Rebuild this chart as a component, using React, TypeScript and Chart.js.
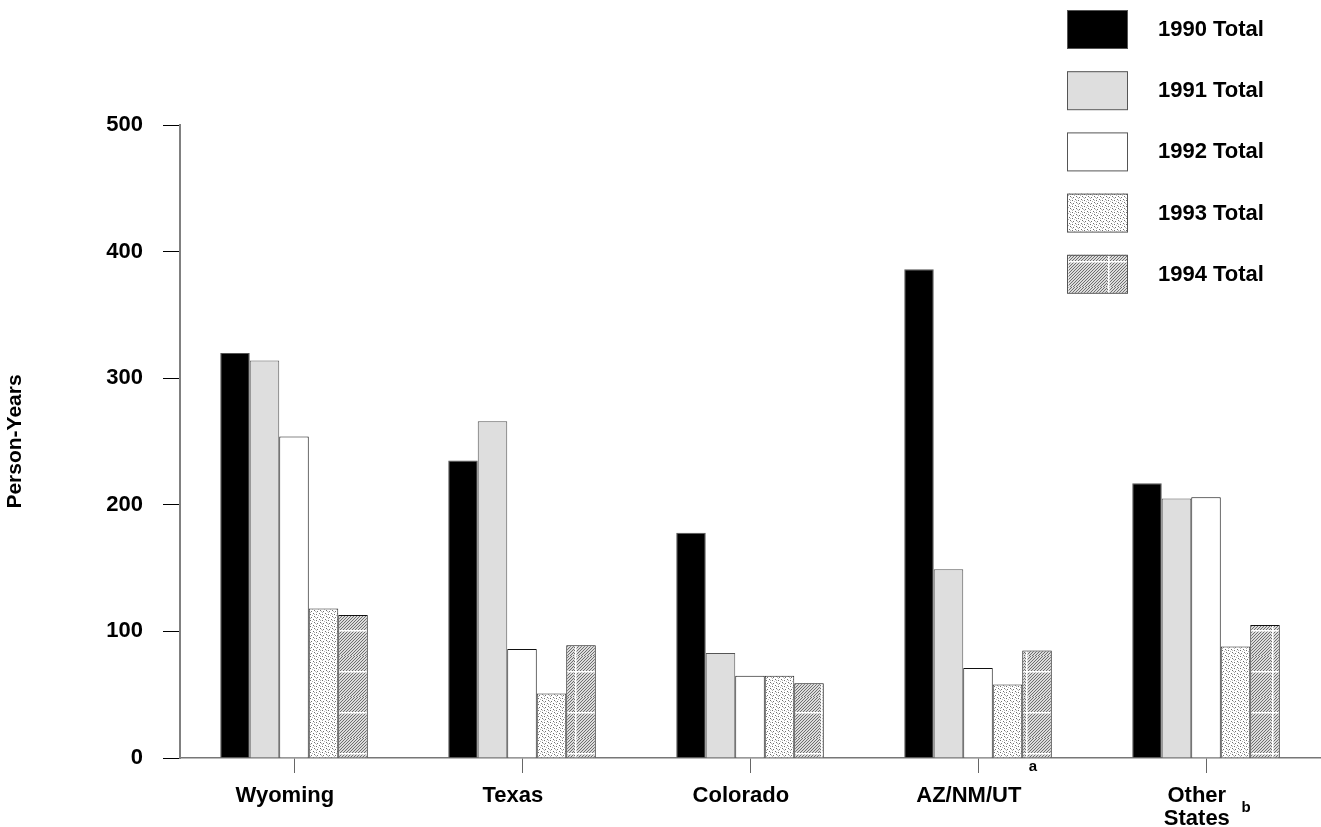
import React, { useEffect, useRef } from 'react';
import { Chart, registerables } from 'chart.js';

Chart.register(...registerables);

const categories = ['Wyoming', 'Texas', 'Colorado', 'AZ/NM/UT', 'Other States'];
const seriesLabels = ['1990 Total', '1991 Total', '1992 Total', '1993 Total', '1994 Total'];
const values1990 = [320, 235, 178, 386, 217];
const values1991 = [314, 266, 83, 149, 205];
const values1992 = [254, 86, 65, 71, 206];
const values1993 = [118, 51, 65, 58, 88];
const values1994 = [113, 89, 59, 85, 105];
const yTicks = [0, 100, 200, 300, 400, 500];
const superscripts = [
  { index: 3, text: 'a', dx: 55, y: 767 },
  { index: 4, text: 'b', dx: 40, y: 808 },
];

const FONT = "'Liberation Sans', Arial, sans-serif";

function makeStipple(): CanvasPattern | string {
  const c = document.createElement('canvas');
  c.width = 6;
  c.height = 6;
  const ctx = c.getContext('2d');
  if (!ctx) return '#eee';
  ctx.fillStyle = '#ffffff';
  ctx.fillRect(0, 0, 6, 6);
  const dark: [number, number][] = [[1, 1], [4, 2], [2, 4], [5, 5]];
  const light: [number, number][] = [[4, 0], [0, 3], [3, 5], [2, 2]];
  ctx.fillStyle = '#6f6f6f';
  dark.forEach(([x, y]) => ctx.fillRect(x, y, 1, 1));
  ctx.fillStyle = '#b8b8b8';
  light.forEach(([x, y]) => ctx.fillRect(x, y, 1, 1));
  return ctx.createPattern(c, 'repeat') || '#eee';
}

function makeHatch(): CanvasPattern | string {
  const s = 41;
  const c = document.createElement('canvas');
  c.width = s;
  c.height = s;
  const ctx = c.getContext('2d');
  if (!ctx) return '#bbb';
  ctx.fillStyle = '#dcdcdc';
  ctx.fillRect(0, 0, s, s);
  ctx.strokeStyle = '#6e6e6e';
  ctx.lineWidth = 1;
  for (let k = -s; k < 2 * s; k += 3) {
    ctx.beginPath();
    ctx.moveTo(k, s);
    ctx.lineTo(k + s, 0);
    ctx.stroke();
  }
  ctx.fillStyle = '#ffffff';
  ctx.fillRect(0, 15, s, 1.5);
  ctx.fillRect(1, 0, 1.5, s);
  return ctx.createPattern(c, 'repeat') || '#bbb';
}

export default function App() {
  const ref = useRef<HTMLCanvasElement | null>(null);

  useEffect(() => {
    document.body.style.margin = '0';
    const canvas = ref.current;
    if (!canvas) return;

    const fills = ['#000000', '#dedede', '#ffffff', makeStipple(), makeHatch()];
    const borders = ['#555555', '#555555', '#111111', '#222222', '#111111'];
    const allValues = [values1990, values1991, values1992, values1993, values1994];

    const legendPlugin = {
      id: 'customLegend',
      afterDraw(chart: any) {
        const ctx = chart.ctx;
        ctx.save();
        chart.data.datasets.forEach((ds: any, i: number) => {
          const x = 1067;
          const y = 10 + i * 61.2;
          const w = 60;
          const h = 38;
          ctx.fillStyle = ds.backgroundColor;
          ctx.fillRect(x, y, w, h);
          ctx.strokeStyle = '#555555';
          ctx.lineWidth = 1;
          ctx.strokeRect(x + 0.5, y + 0.5, w, h);
          ctx.fillStyle = '#000000';
          ctx.font = `bold 22px ${FONT}`;
          ctx.textAlign = 'left';
          ctx.textBaseline = 'middle';
          ctx.fillText(ds.label, 1158, y + h / 2 + 1);
        });
        const xs = chart.scales.x;
        ctx.font = `bold 15px ${FONT}`;
        ctx.textAlign = 'center';
        ctx.textBaseline = 'middle';
        ctx.fillStyle = '#000000';
        superscripts.forEach((s) => {
          ctx.fillText(s.text, xs.getPixelForValue(s.index) + s.dx, s.y);
        });
        ctx.restore();
      },
    };

    const chart = new Chart(canvas, {
      type: 'bar',
      data: {
        labels: categories,
        datasets: seriesLabels.map((label, i) => ({
          label,
          data: allValues[i],
          backgroundColor: fills[i] as any,
          borderColor: borders[i],
          borderWidth: 1,
          borderSkipped: 'bottom' as const,
          categoryPercentage: 0.647,
          barPercentage: 1.0,
        })),
      },
      options: {
        animation: false,
        responsive: true,
        maintainAspectRatio: false,
        layout: { padding: { top: 125, right: 1, left: 0, bottom: 0 } },
        plugins: {
          legend: { display: false },
          tooltip: { enabled: false },
          title: { display: false },
        },
        scales: {
          x: {
            grid: {
              display: true,
              offset: false,
              drawOnChartArea: false,
              drawTicks: true,
              tickLength: 15,
              color: '#666666',
            },
            border: { display: true, color: '#777777', width: 1.5 },
            ticks: {
              color: '#000000',
              font: { family: FONT, size: 22, weight: 'bold', lineHeight: 1.05 },
              padding: 11,
              maxRotation: 0,
              autoSkip: false,
              callback: (_v: any, idx: number) => {
                const l = categories[idx];
                if (l === 'Other States') return ['Other   ', 'States   '];
                return l + '   ';
              },
            },
            afterFit: (scale: any) => {
              scale.height = 69;
            },
          },
          y: {
            min: 0,
            max: 500,
            afterBuildTicks: (scale: any) => {
              scale.ticks = yTicks.map((v) => ({ value: v }));
            },
            grid: {
              display: true,
              drawOnChartArea: false,
              drawTicks: true,
              tickLength: 17,
              color: '#000000',
            },
            border: { display: true, color: '#808080', width: 2 },
            ticks: {
              color: '#000000',
              font: { family: FONT, size: 22, weight: 'bold' },
              padding: 20,
            },
            title: {
              display: true,
              text: 'Person-Years',
              color: '#000000',
              font: { family: FONT, size: 21, weight: 'bold' },
              padding: { top: 3, bottom: 0 },
            },
            afterFit: (scale: any) => {
              scale.width = 180;
            },
          },
        },
      },
      plugins: [legendPlugin],
    });

    return () => chart.destroy();
  }, []);

  return (
    <div style={{ width: 1321, height: 827, position: 'relative' }}>
      <canvas ref={ref} />
    </div>
  );
}
